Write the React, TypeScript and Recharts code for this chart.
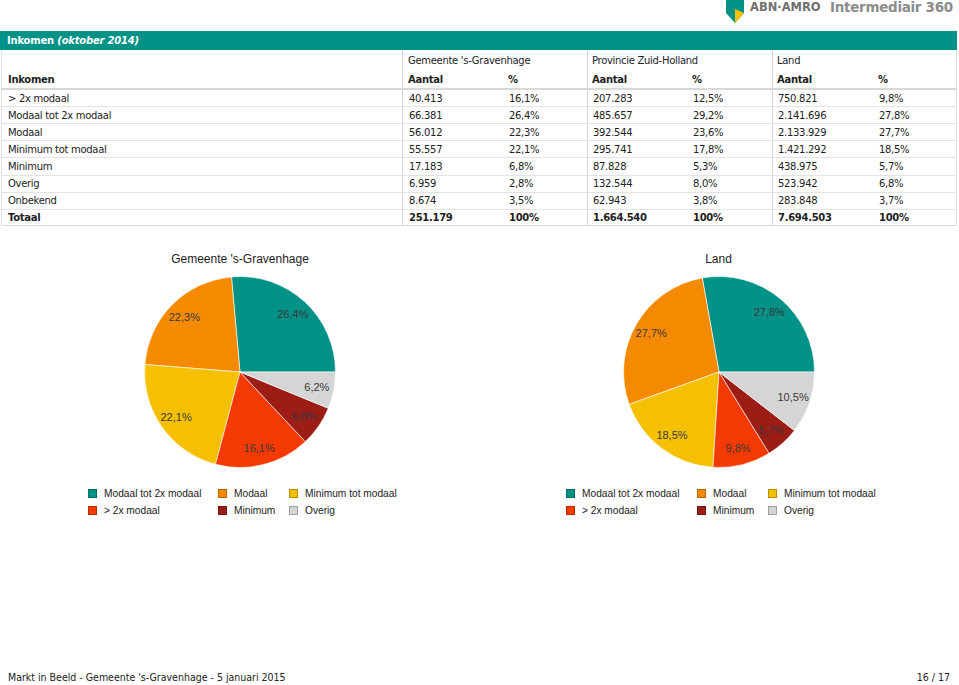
import React from 'react';
import { PieChart, Pie, Cell } from 'recharts';

// table data (oktober 2014)
const tableCategories = ['> 2x modaal', 'Modaal tot 2x modaal', 'Modaal', 'Minimum tot modaal', 'Minimum', 'Overig', 'Onbekend'];
const gemeenteAantal = ['40.413', '66.381', '56.012', '55.557', '17.183', '6.959', '8.674'];
const gemeentePct = ['16,1%', '26,4%', '22,3%', '22,1%', '6,8%', '2,8%', '3,5%'];
const provincieAantal = ['207.283', '485.657', '392.544', '295.741', '87.828', '132.544', '62.943'];
const provinciePct = ['12,5%', '29,2%', '23,6%', '17,8%', '5,3%', '8,0%', '3,8%'];
const landAantal = ['750.821', '2.141.696', '2.133.929', '1.421.292', '438.975', '523.942', '283.848'];
const landPct = ['9,8%', '27,8%', '27,7%', '18,5%', '5,7%', '6,8%', '3,7%'];
const totals = ['251.179', '100%', '1.664.540', '100%', '7.694.503', '100%'];

// pie data
const pieCategories = ['Modaal tot 2x modaal', 'Modaal', 'Minimum tot modaal', '> 2x modaal', 'Minimum', 'Overig'];
const gemeentePie = [26.4, 22.3, 22.1, 16.1, 6.8, 6.2];
const landPie = [27.8, 27.7, 18.5, 9.8, 5.7, 10.5];
const pieColors = ['#009286', '#f58a00', '#f4c000', '#f43a00', '#9c1c16', '#d5d5d5'];

const tableFont = '"DejaVu Sans", Verdana, sans-serif';
const chartFont = '"Liberation Sans", Arial, sans-serif';
const RADIAN = Math.PI / 180;

const colX = [8, 408, 508, 592, 692, 777, 878];
const rowTop = 89;
const rowH = 17.1;

function Txt({ x, y, children, bold, style }: any) {
  return (
    <div
      style={{
        position: 'absolute', left: x, top: y - 6, height: 14, lineHeight: '14px',
        fontFamily: tableFont, fontSize: 10, letterSpacing: -0.3, color: '#222', whiteSpace: 'nowrap',
        fontWeight: bold ? 'bold' : 'normal', ...style,
      }}
    >
      {children}
    </div>
  );
}

function renderLabel(props: any) {
  const { cx, cy, midAngle, outerRadius, value } = props;
  const r = outerRadius * 0.82;
  const x = cx + r * Math.cos(-midAngle * RADIAN);
  const y = cy + r * Math.sin(-midAngle * RADIAN);
  return (
    <text x={x} y={y} fill="#3a3a3a" fontSize={11} fontFamily={chartFont} textAnchor="middle" dominantBaseline="central">
      {value.toFixed(1).replace('.', ',') + '%'}
    </text>
  );
}

function IncomePie({ values, title, left, legendX }: { values: number[]; title: string; left: number; legendX: number[] }) {
  const data = pieCategories.map((name, i) => ({ name, value: values[i] }));
  return (
    <>
      <div style={{ position: 'absolute', left: left - 150, width: 300, top: 252, textAlign: 'center', fontFamily: chartFont, fontSize: 12, color: '#222' }}>
        {title}
      </div>
      <div style={{ position: 'absolute', left: left - 150, top: 262 }}>
        <PieChart width={300} height={220} margin={{ top: 0, right: 0, bottom: 0, left: 0 }}>
          <Pie
            data={data}
            dataKey="value"
            nameKey="name"
            cx={150}
            cy={110}
            outerRadius={95.5}
            startAngle={0}
            endAngle={360}
            stroke="#ffffff"
            strokeWidth={0.6}
            label={renderLabel}
            labelLine={false}
            isAnimationActive={false}
          >
            {data.map((d, i) => (
              <Cell key={d.name} fill={pieColors[i]} />
            ))}
          </Pie>
        </PieChart>
      </div>
      {pieCategories.map((name, i) => {
        const col = i % 3;
        const row = Math.floor(i / 3);
        return (
          <div key={name} style={{ position: 'absolute', left: legendX[col], top: 487 + row * 17, height: 12, display: 'flex', alignItems: 'center', fontFamily: chartFont, fontSize: 10.2, color: '#222', whiteSpace: 'nowrap' }}>
            <span style={{ width: 7, height: 7, background: pieColors[i], border: '1px solid rgba(0,0,0,0.25)', marginRight: 7 }} />
            {name}
          </div>
        );
      })}
    </>
  );
}

export default function App() {
  const rows = tableCategories.map((c, i) => [c, gemeenteAantal[i], gemeentePct[i], provincieAantal[i], provinciePct[i], landAantal[i], landPct[i]]);
  return (
    <div style={{ position: 'absolute', left: 0, top: 0, width: 959, height: 685, background: '#fff', overflow: 'hidden' }}>
      {/* header logo */}
      <svg style={{ position: 'absolute', left: 725, top: 0 }} width={20} height={24}>
        <path d="M1 0 H19 V13 L10 23 L1 13 Z" fill="#009286" />
        <path d="M10 9 L19 13 L10 23 Z" fill="#f4c000" />
      </svg>
      <div style={{ position: 'absolute', left: 750, top: 0, fontFamily: tableFont, fontWeight: 'bold', fontSize: 11.5, color: '#707070', whiteSpace: 'nowrap' }}>ABN·AMRO</div>
      <div style={{ position: 'absolute', left: 830, top: -1, fontFamily: tableFont, fontWeight: 'bold', fontSize: 13.5, letterSpacing: -0.3, color: '#8c8c8c', whiteSpace: 'nowrap' }}>Intermediair 360</div>

      {/* title bar */}
      <div style={{ position: 'absolute', left: 0, top: 31, width: 957, height: 19, background: '#009286', color: '#fff', fontFamily: tableFont, fontWeight: 'bold', fontSize: 10, letterSpacing: -0.2, lineHeight: '19px', paddingLeft: 7, boxSizing: 'border-box', whiteSpace: 'nowrap' }}>
        Inkomen <i>(oktober 2014)</i>
      </div>

      {/* table frame */}
      <div style={{ position: 'absolute', left: 1, top: 50, width: 956, height: rowTop + rowH * 8 - 50, borderLeft: '1px solid #e2e2e2', borderRight: '1px solid #e2e2e2', borderBottom: '1px solid #d8d8d8', boxSizing: 'border-box' }} />
      {[402, 587, 772].map((x) => (
        <div key={x} style={{ position: 'absolute', left: x, top: 50, width: 1, height: rowTop + rowH * 8 - 50, background: '#d6d6d6' }} />
      ))}
      <div style={{ position: 'absolute', left: 1, top: rowTop - 1, width: 956, height: 2, background: '#d8d8d8' }} />
      {Array.from({ length: 7 }).map((_, i) => (
        <div key={i} style={{ position: 'absolute', left: 1, top: rowTop + rowH * (i + 1), width: 956, height: 1, background: '#e4e4e4' }} />
      ))}

      <Txt x={408} y={60}>Gemeente 's-Gravenhage</Txt>
      <Txt x={592} y={60}>Provincie Zuid-Holland</Txt>
      <Txt x={777} y={60}>Land</Txt>
      <Txt x={8} y={79} bold>Inkomen</Txt>
      {['Aantal', '%', 'Aantal', '%', 'Aantal', '%'].map((h, j) => (
        <Txt key={j} x={colX[j + 1]} y={79} bold>{h}</Txt>
      ))}
      {rows.map((r, i) =>
        r.map((v, j) => (
          <Txt key={i + '-' + j} x={colX[j] + (j === 0 ? 0 : 1)} y={rowTop + rowH * i + rowH / 2}>{v}</Txt>
        ))
      )}
      <Txt x={8} y={rowTop + rowH * 7 + rowH / 2} bold>Totaal</Txt>
      {totals.map((v, j) => (
        <Txt key={'t' + j} x={colX[j + 1] + 1} y={rowTop + rowH * 7 + rowH / 2} bold>{v}</Txt>
      ))}

      <IncomePie values={gemeentePie} title="Gemeente 's-Gravenhage" left={240} legendX={[88, 218, 289]} />
      <IncomePie values={landPie} title="Land" left={718.5} legendX={[566, 697, 768]} />

      {/* footer */}
      <div style={{ position: 'absolute', left: 8, top: 671, fontFamily: '"DejaVu Sans Condensed", "DejaVu Sans", sans-serif', fontStretch: 'condensed', fontSize: 10.5, color: '#222', whiteSpace: 'nowrap' }}>
        Markt in Beeld - Gemeente 's-Gravenhage - 5 januari 2015
      </div>
      <div style={{ position: 'absolute', right: 9, top: 671, fontFamily: '"DejaVu Sans Condensed", "DejaVu Sans", sans-serif', fontStretch: 'condensed', fontSize: 10.5, color: '#222', whiteSpace: 'nowrap' }}>
        16 / 17
      </div>
    </div>
  );
}
